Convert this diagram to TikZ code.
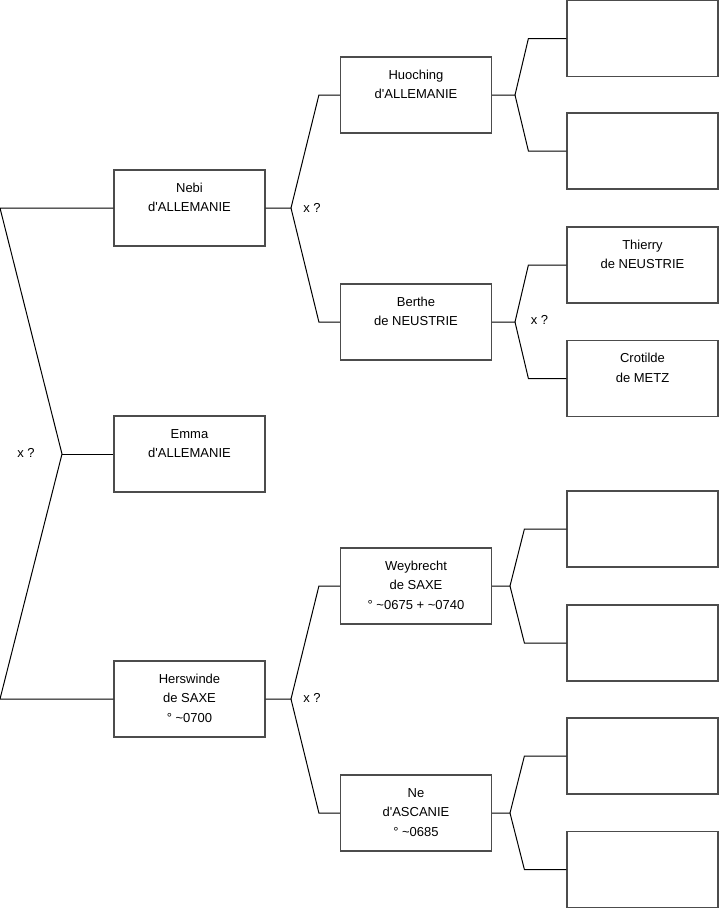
\documentclass[tikz,border=0pt]{standalone}
\usepackage{fontspec}
\setmainfont{Liberation Sans}
\usetikzlibrary{positioning,calc}

\newcommand{\who}[1]{\parbox[t][59.3pt][t]{140pt}{\centering\strut #1}}
\newcommand{\ap}{\textquotesingle}

\begin{document}
\begin{tikzpicture}[
    x=1pt, y=-1pt,
    person/.style={draw=black!70, rectangle, line width=1.2pt, minimum width=151pt, minimum height=76pt, inner sep=0pt, font=\fontsize{13}{19.5}\selectfont},
    union/.style={inner sep=0pt, font=\fontsize{13}{15}\selectfont},
    link/.style={line width=1pt, black}
]
\useasboundingbox (0,0) rectangle (719,908);

% Generation 1: the children
\node[person] (nebi) at (189.5,208) {\who{Nebi\\ d\ap ALLEMANIE}};
\node[person] (emma) at (189.5,454) {\who{Emma\\ d\ap ALLEMANIE}};
\node[person] (hers) at (189.5,699) {\who{Herswinde\\ de SAXE\\ ° \textasciitilde0700}};

% Generation 2: parents
\node[person] (huoc) at (416,95) {\who{Huoching\\ d\ap ALLEMANIE}};
\node[person] (bert) at (416,322) {\who{Berthe\\ de NEUSTRIE}};
\node[person] (weyb) at (416,586) {\who{Weybrecht\\ de SAXE\\ ° \textasciitilde0675 + \textasciitilde0740}};
\node[person] (ne) at (416,813) {\who{Ne\\ d\ap ASCANIE\\ ° \textasciitilde0685}};

% Generation 3: grandparents
\node[person] (g1) at (642.5,38.5) {};
\node[person] (g2) at (642.5,151) {};
\node[person] (thie) at (642.5,265) {\who{Thierry\\ de NEUSTRIE}};
\node[person] (crot) at (642.5,378.5) {\who{Crotilde\\ de METZ}};
\node[person] (g5) at (642.5,529) {};
\node[person] (g6) at (642.5,643) {};
\node[person] (g7) at (642.5,756) {};
\node[person] (g8) at (642.5,869.5) {};

% unknown union marks
\node[union] (u0) at (26,453) {x ?};
\node[union] (u1) at (312,208) {x ?};
\node[union] (u2) at (539.5,320) {x ?};
\node[union] (u3) at (312,698) {x ?};

% siblings fork
\coordinate (f0) at (62,454);
\coordinate (l1) at (0,208);
\coordinate (l2) at (0,699);
\draw[link] (nebi.west) -- (l1) -- (f0) -- (l2) -- (hers.west);
\draw[link] (f0) -- (emma.west);

% parents forks
\coordinate (f1) at (291,208);
\draw[link] (nebi.east) -- (f1) -- ([xshift=-21pt]huoc.west) -- (huoc.west);
\draw[link] (f1) -- ([xshift=-21pt]bert.west) -- (bert.west);
\coordinate (f2) at (291,699);
\draw[link] (hers.east) -- (f2) -- ([xshift=-21pt]weyb.west) -- (weyb.west);
\draw[link] (f2) -- ([xshift=-21pt]ne.west) -- (ne.west);

% grandparents forks
\coordinate (f3) at (515,95);
\draw[link] (huoc.east) -- (f3) -- ([xshift=-38pt]g1.west) -- (g1.west);
\draw[link] (f3) -- ([xshift=-38pt]g2.west) -- (g2.west);
\coordinate (f4) at (515,322);
\draw[link] (bert.east) -- (f4) -- ([xshift=-38pt]thie.west) -- (thie.west);
\draw[link] (f4) -- ([xshift=-38pt]crot.west) -- (crot.west);
\coordinate (f5) at (510,586);
\draw[link] (weyb.east) -- (f5) -- ([xshift=-42pt]g5.west) -- (g5.west);
\draw[link] (f5) -- ([xshift=-42pt]g6.west) -- (g6.west);
\coordinate (f6) at (510,813);
\draw[link] (ne.east) -- (f6) -- ([xshift=-42pt]g7.west) -- (g7.west);
\draw[link] (f6) -- ([xshift=-42pt]g8.west) -- (g8.west);

\end{tikzpicture}
\end{document}
